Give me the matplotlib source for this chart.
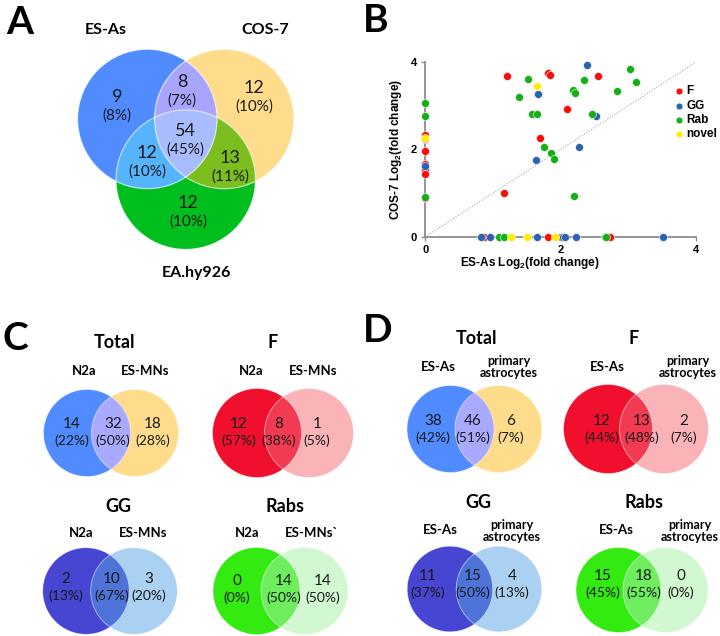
import numpy as np
import matplotlib.pyplot as plt
from matplotlib.patches import Circle, Polygon

plt.rcParams["mathtext.fontset"] = "custom"
plt.rcParams["mathtext.rm"] = "Liberation Sans"
plt.rcParams["mathtext.bf"] = "Liberation Sans:bold"

# ---------------------------------------------------
# DATA
# ---------------------------------------------------
# panel A: three-way overlap (ES-As, COS-7, EA.hy926)
a_sets = ["ES-As", "COS-7", "EA.hy926"]
# order: ES-As only, COS-7 only, EA only, ES&COS, ES&EA, COS&EA, all
a_counts = [9, 12, 12, 8, 12, 13, 54]
a_pcts = [8, 10, 10, 7, 10, 11, 45]

# panel B: log2 fold change, ES-As (x) vs COS-7 (y)
f_x = [1.21, 1.81, 1.85, 2.55, 2.09, 1.69, 1.16,
       0, 0, 0, 0, 0, 0, 0,
       0.87, 1.81, 2.01, 2.70, 2.73]
f_y = [3.68, 3.75, 3.70, 3.68, 2.92, 2.27, 1.00,
       2.33, 2.23, 1.97, 1.66, 1.54, 1.43, 0.88,
       0, 0, 0, 0, 0]
gg_x = [2.39, 1.67, 2.52, 2.27, 1.64,
        0,
        0.82, 0.96, 1.65, 2.04, 2.07, 2.22, 3.51]
gg_y = [3.94, 3.26, 2.77, 2.05, 1.76,
        1.62,
        0, 0, 0, 0, 0, 0, 0]
rab_x = [1.52, 1.38, 1.57, 1.65, 2.18, 2.21, 2.35, 2.46, 2.83, 3.02, 3.11,
         1.75, 1.86, 1.90, 2.20,
         0, 0, 0,
         1.09, 1.17, 2.65, 2.67]
rab_y = [3.61, 3.20, 2.82, 2.81, 3.37, 3.29, 3.58, 2.80, 3.34, 3.84, 3.55,
         2.05, 1.92, 1.77, 0.93,
         3.07, 2.77, 0.92,
         0, 0, 0, 0]
nov_x = [1.65, 0, 1.27, 1.50, 1.91]
nov_y = [3.46, 2.27, 0, 0, 0]

# panels C / D: two-way overlaps, [left only, both, right only]
sub_titles = ["Total", "F", "GG", "Rabs"]
c_left = "N2a"
c_right = ["ES-MNs", "ES-MNs", "ES-MNs", "ES-MNs`"]
c_counts = [[14, 32, 18], [12, 8, 1], [2, 10, 3], [0, 14, 14]]
c_pcts = [[22, 50, 28], [57, 38, 5], [13, 67, 20], [0, 50, 50]]
d_left = "ES-As"
d_right = "primary\nastrocytes"
d_counts = [[38, 46, 6], [12, 13, 2], [11, 15, 4], [15, 18, 0]]
d_pcts = [[42, 51, 7], [44, 48, 7], [37, 50, 13], [45, 55, 0]]

# ---------------------------------------------------
# STYLE
# ---------------------------------------------------
VFONT = "Lato"
TXT = "#1a1a1a"
pair_colors = {
    "Total": ("#508CFF", "#FFDC8C", "#A9A9FF"),
    "F": ("#F0102E", "#FAB4B8", "#F23A52"),
    "GG": ("#4646D2", "#AAD0F2", "#4E74DA"),
    "Rabs": ("#33EA11", "#D2F8D2", "#6EEE5E"),
}

fig = plt.figure(figsize=(7.2, 6.36), dpi=100)
bg = fig.add_axes([0, 0, 1, 1])
bg.set_xlim(0, 720)
bg.set_ylim(636, 0)
bg.axis("off")


def inter_poly(circles, n=720):
    # intersection of circles is convex -> sample boundaries, sort by angle
    pts = []
    t = np.linspace(0, 2 * np.pi, n, endpoint=False)
    for cx, cy, r in circles:
        px = cx + r * np.cos(t)
        py = cy + r * np.sin(t)
        ok = np.ones(n, bool)
        for ox, oy, orr in circles:
            ok &= (px - ox) ** 2 + (py - oy) ** 2 <= orr ** 2 * 1.0005
        pts.append(np.column_stack([px[ok], py[ok]]))
    pts = np.vstack(pts)
    c = pts.mean(axis=0)
    ang = np.arctan2(pts[:, 1] - c[1], pts[:, 0] - c[0])
    return pts[np.argsort(ang)]


def put_count(x, y, n, p, size_n, size_p, gap):
    bg.text(x, y, str(n), ha="center", va="center", fontsize=size_n,
            family=VFONT, color=TXT)
    bg.text(x, y + gap, f"({p}%)", ha="center", va="center",
            fontsize=size_p, family=VFONT, color=TXT)


# ---------------------------------------------------
# PANEL A
# ---------------------------------------------------
ra = 69.7
circ_a = [(147.3, 119, ra), (224.3, 119, ra), (185.7, 179.7, ra)]
cols_a = ["#508CFF", "#FFDC8C", "#00BE1E"]
for (cx, cy, r), col in zip(circ_a, cols_a):
    bg.add_patch(Circle((cx, cy), r, facecolor=col, edgecolor="none"))
for idx, col in [((0, 1), "#A9A5FF"), ((0, 2), "#56B4FF"),
                 ((1, 2), "#7BBE1E"), ((0, 1, 2), "#A9BCFF")]:
    poly = inter_poly([circ_a[i] for i in idx])
    bg.add_patch(Polygon(poly, closed=True, facecolor=col, edgecolor="none"))
for cx, cy, r in circ_a:
    bg.add_patch(Circle((cx, cy), r, facecolor="none", edgecolor="white",
                        lw=0.8, alpha=0.7))

a_pos = [(117, 97), (254, 88), (188, 203), (182, 82), (147, 153),
         (230, 158), (185, 131)]
for (x, y), n, p in zip(a_pos, a_counts, a_pcts):
    put_count(x, y, n, p, 13, 11, 18.5)

for name, (x, y) in zip(a_sets, [(106, 30), (265, 30), (196, 273)]):
    bg.text(x, y, name, ha="center", va="center", fontsize=11.5,
            fontweight="bold", family=VFONT)

# ---------------------------------------------------
# PANELS C AND D
# ---------------------------------------------------
# per diagram: left centre x, right centre x, centre y, radius,
# title pos, left label pos, right label pos, text x's, text y
c_layout = [
    (87, 135, 433, 43.5, (114, 342), (84, 371), (145, 371), [72, 113, 153], 424),
    (257, 309, 433, 44.5, (273, 342), (251, 371), (313, 371), [239, 279, 317], 424),
    (86, 134, 591, 43.3, (118, 507), (81, 533), (143, 533), [66, 112, 149], 579),
    (256.5, 304.5, 591, 43.5, (285, 507), (247, 533), (312, 533), [237, 284, 323], 581),
]
d_layout = [
    (450.5, 498.5, 429, 43.5, (477, 338), (438, 367), (509, 367), [433, 473, 511], 421),
    (608, 664, 429, 44.5, (634, 338), (607, 367), (688, 367), [602, 642, 684], 421),
    (450, 499, 589, 42.8, (478, 503), (440, 530), (512, 531), [428, 473, 512], 576),
    (618.5, 665.5, 590, 42.5, (644, 503), (616, 530), (690, 531), [603, 644, 681], 576),
]


def venn2(layout, title, left, right, counts, pcts, right_small=False):
    x1, x2, cy, r, tpos, lpos, rpos, tx, ty = layout
    c1, c2, c12 = pair_colors[title]
    bg.add_patch(Circle((x1, cy), r, facecolor=c1, edgecolor="none"))
    bg.add_patch(Circle((x2, cy), r, facecolor=c2, edgecolor="none"))
    poly = inter_poly([(x1, cy, r), (x2, cy, r)])
    bg.add_patch(Polygon(poly, closed=True, facecolor=c12, edgecolor="none"))
    for x in (x1, x2):
        bg.add_patch(Circle((x, cy), r, facecolor="none", edgecolor="white",
                            lw=0.6, alpha=0.5))
    bg.text(*tpos, title, ha="center", va="center", fontsize=13,
            fontweight="bold", family=VFONT)
    bg.text(*lpos, left, ha="center", va="center", fontsize=9.5,
            fontweight="bold", family=VFONT)
    bg.text(*rpos, right, ha="center", va="center",
            fontsize=9 if right_small else 9.5, linespacing=0.95,
            fontweight="bold", family=VFONT)
    for x, n, p in zip(tx, counts, pcts):
        put_count(x, ty, n, p, 11, 10, 17)


for lay, t, rl, n, p in zip(c_layout, sub_titles, c_right, c_counts, c_pcts):
    venn2(lay, t, c_left, rl, n, p)
for lay, t, n, p in zip(d_layout, sub_titles, d_counts, d_pcts):
    venn2(lay, t, d_left, d_right, n, p, right_small=True)

# ---------------------------------------------------
# PANEL B (scatter)
# ---------------------------------------------------
ax = fig.add_axes([425.3 / 720, 1 - 236.7 / 636, 270.7 / 720, 174.7 / 636])
ax.set_xlim(0, 4)
ax.set_ylim(0, 4)
ax.set_facecolor("none")
for s in ["top", "right"]:
    ax.spines[s].set_visible(False)
for s in ["left", "bottom"]:
    ax.spines[s].set_color("#8c8c8c")
    ax.spines[s].set_linewidth(1.3)
ax.set_xticks([0, 2, 4])
ax.set_yticks([0, 2, 4])
ax.tick_params(length=3, width=1, color="#8c8c8c", pad=3, labelsize=8)
for lab in ax.get_xticklabels() + ax.get_yticklabels():
    lab.set_fontweight("bold")
    lab.set_family("Liberation Sans")

ax.plot([0, 4], [0, 4], ls=(0, (1, 1.5)), color="#a8a8a8", lw=0.8, zorder=1)

groups = [("F", f_x, f_y, "#FF0A0A"), ("GG", gg_x, gg_y, "#2A62B4"),
          ("Rab", rab_x, rab_y, "#16B016"), ("novel", nov_x, nov_y, "#FFEE00")]
for name, xs, ys, col in groups:
    ax.scatter(xs, ys, s=33, color=col, edgecolors="white", linewidths=0.4,
               clip_on=False, zorder=3, label=name)

leg = ax.legend(loc="upper left", bbox_to_anchor=(0.89, 0.9), frameon=False,
                handletextpad=0.0, labelspacing=0.2, borderpad=0,
                handlelength=1.2, markerscale=0.85,
                prop={"family": "Liberation Sans", "weight": "bold", "size": 8.5})

ax.set_xlabel(r"ES-As Log$_\mathbf{2}$(fold change)", fontsize=8.5,
              fontweight="bold", family="Liberation Sans")
ax.set_ylabel(r"COS-7 Log$_\mathbf{2}$(fold change)", fontsize=8.5,
              fontweight="bold", family="Liberation Sans")
ax.xaxis.set_label_coords(0.387, -0.105)
ax.yaxis.set_label_coords(-0.08, 0.5)

# ---------------------------------------------------
# PANEL LETTERS
# ---------------------------------------------------
for letter, (x, y) in zip("ABCD", [(20, 22), (376, 21), (15, 338), (378, 331)]):
    bg.text(x, y, letter, ha="center", va="center", fontsize=28,
            fontweight="bold", family=VFONT)

fig.savefig("out.png", dpi=100)
